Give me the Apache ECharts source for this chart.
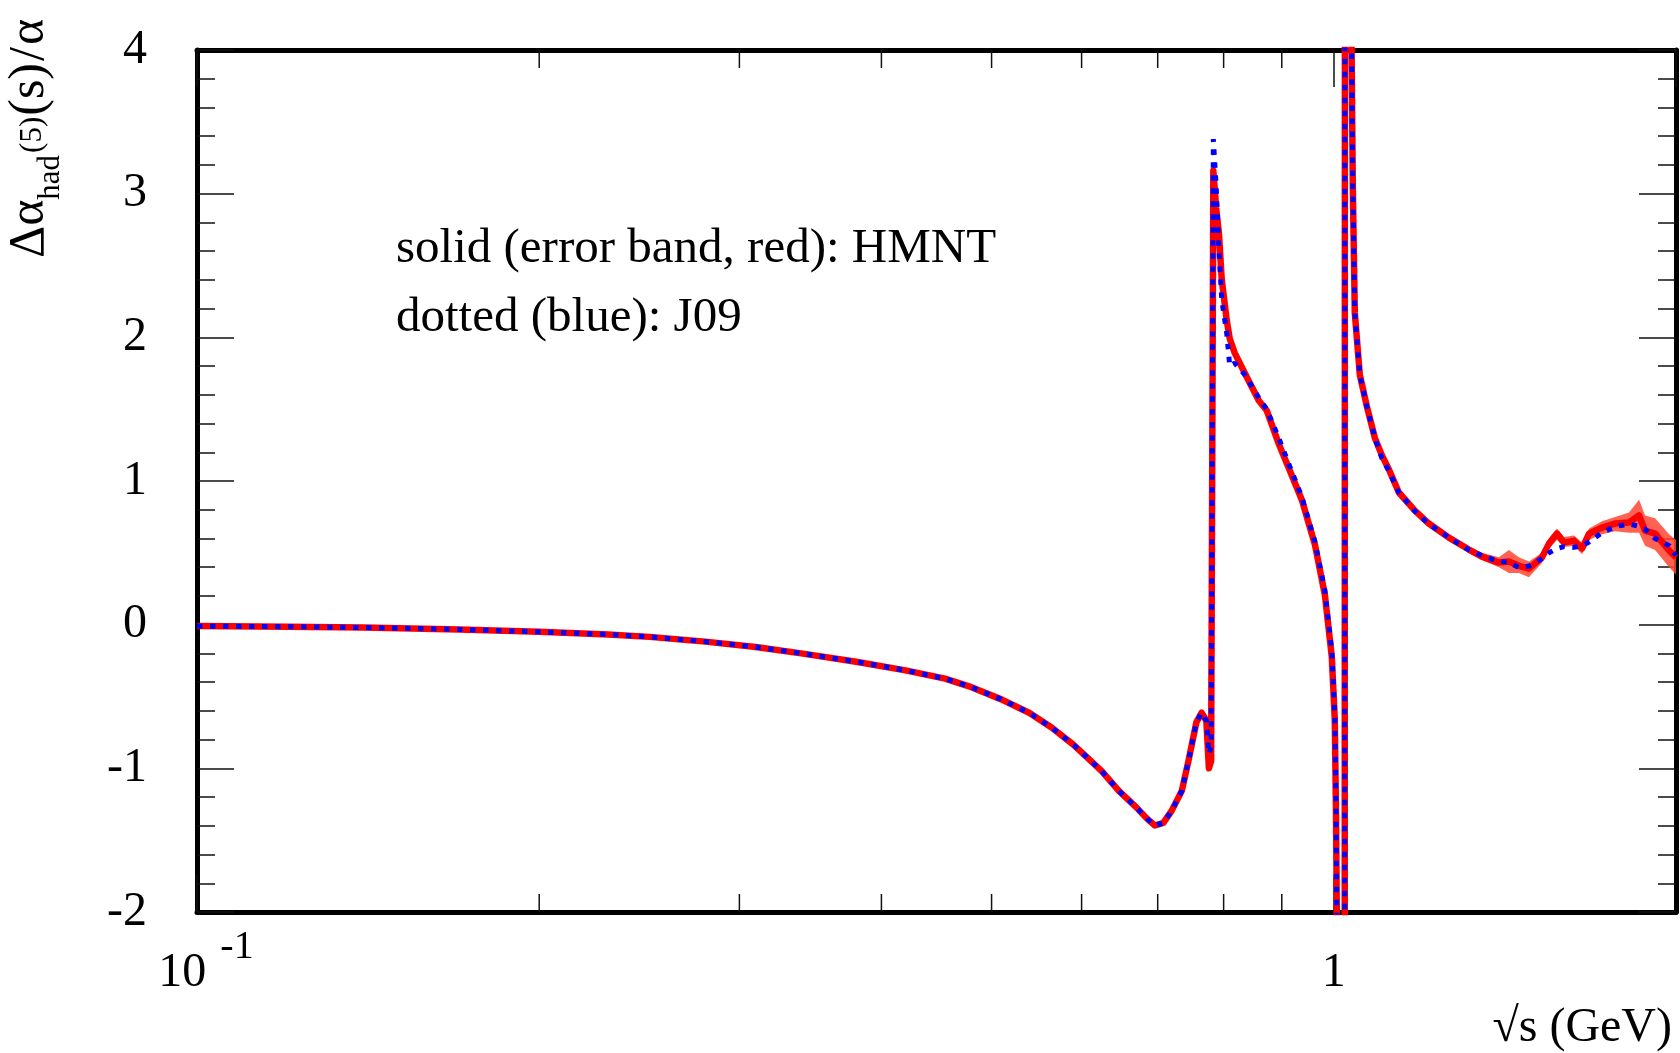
<!DOCTYPE html>
<html>
<head>
<meta charset="utf-8">
<script src="https://cdn.jsdelivr.net/npm/echarts@6/dist/echarts.min.js"></script>
<style>
html,body{margin:0;padding:0;background:#fff;}
#chart{width:1680px;height:1053px;}
</style>
</head>
<body>
<div id="chart"></div>
<script>
// sqrt(s) in GeV
const sqrtS = [0.100,0.120,0.140,0.170,0.200,0.230,0.250,0.280,0.310,0.340,0.380,0.420,0.455,0.480,0.510,0.540,0.565,0.590,0.605,0.625,0.647,0.670,0.685,0.696,0.708,0.720,0.735,0.745,0.757,0.765,0.7725,0.7765,0.7800,0.7835,0.7880,0.7925,0.7970,0.8050,0.8100,0.8183,0.8351,0.8590,0.8730,0.8944,0.9128,0.9372,0.9623,0.9820,0.9959,1.0020,1.0045,1.0070,1.0120,1.0180,1.0215,1.0235,1.0290,1.0340,1.0393,1.0435,1.0541,1.0692,1.0867,1.1021,1.1181,1.1408,1.1785,1.2123,1.2625,1.3147,1.3498,1.3971,1.4257,1.4549,1.4847,1.5244,1.5463,1.5716,1.5942,1.6268,1.6534,1.6770,1.7218,1.7677,1.8185,1.8558,1.8785,1.9170,1.9722,2.0000];
// HMNT (solid red)
const hmnt = [-0.010,-0.014,-0.020,-0.033,-0.050,-0.068,-0.085,-0.118,-0.155,-0.200,-0.258,-0.318,-0.376,-0.435,-0.520,-0.615,-0.718,-0.835,-0.915,-1.020,-1.157,-1.270,-1.350,-1.398,-1.380,-1.296,-1.157,-0.948,-0.680,-0.613,-0.669,-1.000,-0.950,3.160,2.900,2.720,2.400,2.120,1.990,1.890,1.750,1.560,1.490,1.260,1.090,0.870,0.560,0.210,-0.220,-0.660,-1.310,-2.400,-5.000,-14.00,-20.00,20.00,9.000,5.000,3.040,2.170,1.740,1.520,1.300,1.180,1.080,0.920,0.794,0.704,0.606,0.523,0.474,0.432,0.440,0.410,0.390,0.467,0.564,0.634,0.571,0.585,0.530,0.634,0.676,0.704,0.711,0.760,0.655,0.634,0.516,0.467];
// J09 (dotted blue)
const j09 = [-0.010,-0.014,-0.020,-0.033,-0.050,-0.068,-0.085,-0.118,-0.155,-0.200,-0.258,-0.318,-0.376,-0.435,-0.520,-0.615,-0.718,-0.835,-0.915,-1.020,-1.157,-1.270,-1.350,-1.398,-1.380,-1.296,-1.157,-0.948,-0.680,-0.613,-0.669,-0.900,-0.850,3.380,3.050,2.600,2.260,2.030,1.800,1.820,1.740,1.580,1.500,1.300,1.120,0.890,0.580,0.240,-0.180,-0.620,-1.250,-2.400,-5.000,-14.00,-20.00,20.00,9.000,5.000,3.040,2.170,1.740,1.520,1.300,1.160,1.070,0.920,0.790,0.700,0.606,0.520,0.481,0.440,0.435,0.397,0.408,0.460,0.500,0.530,0.543,0.538,0.550,0.575,0.640,0.683,0.700,0.685,0.665,0.600,0.550,0.480];
// HMNT error band
const bandX  = [1.1021,1.1408,1.1785,1.2123,1.2625,1.3147,1.3498,1.3971,1.4257,1.4549,1.4847,1.5244,1.5463,1.5716,1.5942,1.6268,1.6534,1.6770,1.7218,1.7677,1.8185,1.8558,1.8785,1.9170,1.9722,2.0000];
const bandLo = [1.160,0.900,0.775,0.685,0.585,0.500,0.450,0.400,0.360,0.360,0.330,0.430,0.530,0.590,0.540,0.550,0.490,0.590,0.630,0.650,0.640,0.640,0.550,0.520,0.400,0.350];
const bandHi = [1.200,0.940,0.815,0.725,0.625,0.545,0.500,0.470,0.520,0.470,0.440,0.500,0.600,0.670,0.610,0.620,0.570,0.670,0.720,0.750,0.780,0.870,0.760,0.740,0.630,0.590];
// axis ticks
const xMinorTicks = [0.2,0.3,0.4,0.5,0.6,0.7,0.8,0.9];
const yMin = -2, yMax = 4, xMin = 0.1, xMax = 2;

const FONT = '"Liberation Serif", "Times New Roman", serif';
const chart = echarts.init(document.getElementById('chart'), null, {renderer: 'canvas'});

const tickStyle = {color: '#111', width: 1.5};
const axisLineStyle = {color: '#000', width: 5};

const option = {
  animation: false,
  backgroundColor: '#fff',
  grid: {left: 197, right: 4, top: 50, bottom: 141, containLabel: false},
  xAxis: [{
    type: 'log', logBase: 10, min: xMin, max: xMax, position: 'bottom',
    axisLine: {show: true, lineStyle: axisLineStyle, onZero: false},
    axisTick: {show: true, inside: true, length: 37, lineStyle: tickStyle},
    splitLine: {show: false},
    axisLabel: {
      show: true, margin: 15, color: '#000', fontFamily: FONT,
      showMaxLabel: false,
      formatter: function (v) {
        if (Math.abs(v - 0.1) < 1e-6) return '{t|10}{s|-1}';
        if (Math.abs(v - 1) < 1e-6) return '{b|1}';
        return '';
      },
      rich: {
        t: {fontSize: 48, fontFamily: FONT, color: '#000', lineHeight: 70, verticalAlign: 'bottom', padding: [0, 0, 0, 18]},
        b: {fontSize: 48, fontFamily: FONT, color: '#000', lineHeight: 70, verticalAlign: 'bottom'},
        s: {fontSize: 40, fontFamily: FONT, color: '#000', verticalAlign: 'top', padding: [0, 0, 0, 14]}
      }
    }
  }, {
    type: 'log', logBase: 10, min: xMin, max: xMax, position: 'top',
    axisLine: {show: true, lineStyle: axisLineStyle, onZero: false},
    axisTick: {show: true, inside: true, length: 37, lineStyle: tickStyle},
    splitLine: {show: false},
    axisLabel: {show: false}
  }],
  yAxis: [{
    type: 'value', min: yMin, max: yMax, interval: 1, position: 'left',
    axisLine: {show: true, lineStyle: axisLineStyle, onZero: false},
    axisTick: {show: true, inside: true, length: 37, lineStyle: tickStyle},
    minorTick: {show: true, splitNumber: 5, length: 18, lineStyle: tickStyle},
    splitLine: {show: false},
    axisLabel: {margin: 50, fontSize: 48, fontFamily: FONT, color: '#000'}
  }, {
    type: 'value', min: yMin, max: yMax, interval: 1, position: 'right',
    axisLine: {show: true, lineStyle: axisLineStyle, onZero: false},
    axisTick: {show: true, inside: true, length: 37, lineStyle: tickStyle},
    minorTick: {show: true, splitNumber: 5, length: 18, lineStyle: tickStyle},
    splitLine: {show: false},
    axisLabel: {show: false}
  }],
  graphic: [
    {
      type: 'text', x: 30, y: 258, rotation: Math.PI / 2, silent: true,
      style: {
        text: '{m|Δα}{sub|had}{sup|(5)}{m|(s)}{q|/}{m|α}',
        align: 'left', verticalAlign: 'middle', fill: '#000',
        rich: {
          m: {fontSize: 50, fontFamily: FONT, fill: '#000'},
          q: {fontSize: 50, fontFamily: FONT, fill: '#000', padding: [0, 2, 0, 2]},
          sub: {fontSize: 31, fontFamily: FONT, fill: '#000', padding: [41, 1, 0, 0]},
          sup: {fontSize: 31, fontFamily: FONT, fill: '#000', padding: [6, 1, 0, 1]}
        }
      }
    },
    {type: 'text', x: 396, y: 249, silent: true,
     style: {text: 'solid (error band, red): HMNT', font: '49px ' + FONT, fill: '#000', align: 'left', verticalAlign: 'middle'}},
    {type: 'text', x: 396, y: 318, silent: true,
     style: {text: 'dotted (blue): J09', font: '49px ' + FONT, fill: '#000', align: 'left', verticalAlign: 'middle'}},
    {type: 'text', x: 1672, y: 1028, silent: true,
     style: {text: '√s (GeV)', font: '48px ' + FONT, fill: '#000', align: 'right', verticalAlign: 'middle'}}
  ],
  series: [
    {
      type: 'custom', name: 'minorX', xAxisIndex: 0, yAxisIndex: 0, silent: true,
      data: xMinorTicks.map(v => [v, 0]),
      renderItem: function (params, api) {
        const v = api.value(0);
        const b = api.coord([v, yMin]);
        const t = api.coord([v, yMax]);
        return {type: 'group', children: [
          {type: 'line', shape: {x1: b[0], y1: b[1], x2: b[0], y2: b[1] - 18}, style: {stroke: '#111', lineWidth: 1.5}},
          {type: 'line', shape: {x1: t[0], y1: t[1], x2: t[0], y2: t[1] + 18}, style: {stroke: '#111', lineWidth: 1.5}}
        ]};
      }
    },
    {
      type: 'custom', name: 'HMNT band', xAxisIndex: 0, yAxisIndex: 0, silent: true, clip: true,
      data: [[bandX[0], bandLo[0]]],
      renderItem: function (params, api) {
        const pts = [];
        for (let i = 0; i < bandX.length; i++) pts.push(api.coord([bandX[i], bandHi[i]]));
        for (let i = bandX.length - 1; i >= 0; i--) pts.push(api.coord([bandX[i], bandLo[i]]));
        return {type: 'polygon', shape: {points: pts}, style: {fill: 'rgba(255,70,50,0.85)', stroke: null}};
      }
    },
    {
      type: 'line', name: 'HMNT', xAxisIndex: 0, yAxisIndex: 0,
      data: sqrtS.map((x, i) => [x, hmnt[i]]),
      showSymbol: false, symbol: 'none', clip: true, smooth: false,
      lineStyle: {color: '#ff0000', width: 6.5, join: 'round'}
    },
    {
      type: 'line', name: 'J09', xAxisIndex: 0, yAxisIndex: 0,
      data: sqrtS.map((x, i) => [x, j09[i]]),
      showSymbol: false, symbol: 'none', clip: true, smooth: false,
      lineStyle: {color: '#0000ff', width: 5, type: [5.5, 7.5]}
    }
  ]
};
chart.setOption(option);
</script>
</body>
</html>
